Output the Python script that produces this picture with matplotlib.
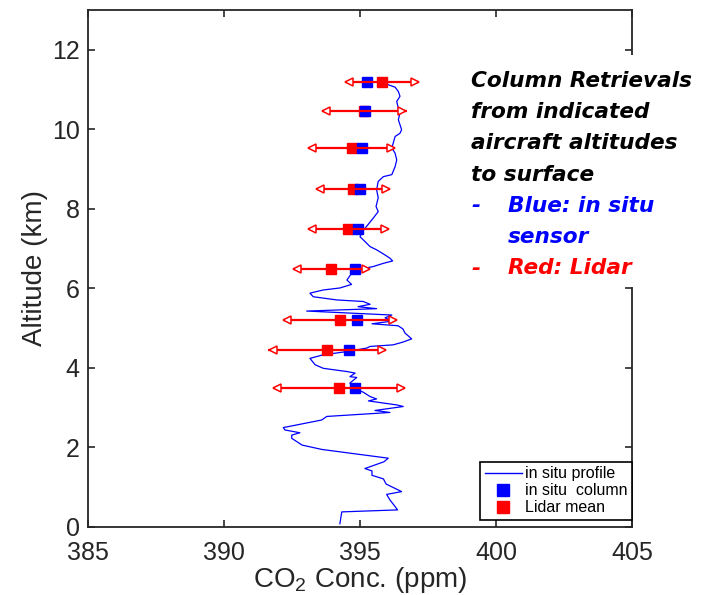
import matplotlib
matplotlib.use('Agg')
import matplotlib.pyplot as plt
from matplotlib.transforms import ScaledTranslation
from matplotlib.patches import Rectangle
from matplotlib.lines import Line2D

# ---------------- data ----------------
profile_conc = [395.81, 396.04, 396.29, 396.41, 396.47, 396.35, 396.41, 396.47, 396.41, 396.53,
                396.47, 396.29, 396.22, 396.17, 396.29, 396.35, 396.29, 396.17, 395.86, 395.67,
                395.61, 395.67, 395.59, 395.67, 395.49, 395.29, 395.11, 395.00, 395.18, 395.37,
                395.61, 395.92, 396.10, 396.20, 395.86, 395.49, 395.06, 394.69, 394.52, 394.69,
                394.26, 393.65, 393.16, 393.28, 394.14, 395.12, 395.37, 394.93, 395.61, 393.04,
                396.17, 395.92, 396.21, 395.44, 396.40, 396.58, 396.65, 396.90, 396.58, 396.22,
                395.37, 395.25, 394.51, 393.65, 393.16, 393.35, 393.65, 394.51, 394.82, 394.63,
                394.88, 394.63, 394.75, 395.12, 395.37, 395.61, 395.31, 396.35, 396.59, 395.55,
                396.10, 393.78, 393.59, 392.18, 392.24, 392.79, 392.49, 392.49, 392.87, 393.60,
                396.04, 395.88, 395.18, 395.44, 395.44, 395.86, 395.96, 396.53, 395.98, 396.10,
                396.25, 396.38, 394.33, 394.26]
profile_alt = [11.23, 11.12, 11.06, 10.95, 10.83, 10.70, 10.53, 10.41, 10.24, 9.99,
               9.90, 9.82, 9.65, 9.53, 9.40, 9.23, 9.06, 8.86, 8.81, 8.69,
               8.48, 8.28, 8.06, 7.93, 7.77, 7.60, 7.45, 7.30, 7.18, 7.05,
               6.97, 6.84, 6.76, 6.69, 6.63, 6.55, 6.49, 6.38, 6.21, 6.10,
               6.01, 5.96, 5.88, 5.79, 5.71, 5.67, 5.60, 5.54, 5.49, 5.43,
               5.33, 5.26, 5.18, 5.11, 5.06, 4.98, 4.88, 4.73, 4.65, 4.58,
               4.54, 4.50, 4.41, 4.33, 4.24, 4.08, 3.99, 3.91, 3.87, 3.78,
               3.76, 3.62, 3.49, 3.39, 3.28, 3.22, 3.17, 3.07, 3.03, 2.93,
               2.88, 2.78, 2.69, 2.50, 2.44, 2.37, 2.31, 2.23, 2.06, 1.95,
               1.73, 1.64, 1.47, 1.41, 1.30, 1.21, 1.08, 0.89, 0.82, 0.68,
               0.55, 0.43, 0.38, 0.08]

column_alt = [11.19, 10.47, 9.54, 8.50, 7.49, 6.48, 5.21, 4.45, 3.50]
insitu_column = [395.26, 395.18, 395.07, 395.00, 394.93, 394.83, 394.90, 394.61, 394.83]
lidar_mean = [395.80, 395.15, 394.70, 394.75, 394.57, 393.95, 394.26, 393.79, 394.23]
lidar_err = [1.36, 1.56, 1.60, 1.36, 1.49, 1.43, 2.10, 2.16, 2.43]

x_ticks = [385, 390, 395, 400, 405]
y_ticks = [0, 2, 4, 6, 8, 10, 12]

legend_labels = ['in situ profile', 'in situ  column', 'Lidar mean']
note_lines = ['Column Retrievals', 'from indicated', 'aircraft altitudes', 'to surface']
blue_lines = ['Blue: in situ', 'sensor']
red_lines = ['Red: Lidar']

# ---------------- style ----------------
plt.rcParams['font.family'] = ['Liberation Sans', 'DejaVu Sans']
plt.rcParams['mathtext.fontset'] = 'custom'
plt.rcParams['mathtext.rm'] = 'Liberation Sans'
plt.rcParams['mathtext.it'] = 'Liberation Sans:italic'

W, H = 702, 595
fig = plt.figure(figsize=(W / 100, H / 100), dpi=100)
ax = fig.add_axes([88 / W, 1 - 527 / H, (632 - 88) / W, (527 - 10) / H])

dark = '#262626'
for s in ax.spines.values():
    s.set_color(dark)
    s.set_linewidth(1.3)
ax.tick_params(direction='in', length=5, width=1.2, colors=dark, labelsize=18,
               top=True, right=True)
ax.tick_params(axis='x', pad=10)
ax.tick_params(axis='y', pad=6)

ax.set_xlim(385, 405)
ax.set_ylim(0, 13)
ax.set_xticks(x_ticks)
ax.set_yticks(y_ticks)

# profile
ax.plot(profile_conc, profile_alt, color='#0000ff', lw=0.9, zorder=2)

# column markers
ax.plot(lidar_mean, column_alt, 's', color='#ff0000', ms=7.5, mec='#ff0000', zorder=3, lw=0)
ax.plot(insitu_column, column_alt, 's', color='#0000ff', ms=7.5, mec='#0000ff', zorder=4, lw=0)

# error bars with open arrowheads
ms_tri = 6.0
for c, a, e in zip(lidar_mean, column_alt, lidar_err):
    ax.plot([c - e, c + e], [a, a], color='#ff0000', lw=1.6, zorder=5, solid_capstyle='butt')
    off_l = ScaledTranslation(ms_tri / 2 / 72, 0, fig.dpi_scale_trans)
    off_r = ScaledTranslation(-ms_tri / 2 / 72, 0, fig.dpi_scale_trans)
    ax.plot([c - e], [a], marker='<', ms=ms_tri, mfc='white', mec='#ff0000', mew=1.1,
            transform=ax.transData + off_l, zorder=6)
    ax.plot([c + e], [a], marker='>', ms=ms_tri, mfc='white', mec='#ff0000', mew=1.1,
            transform=ax.transData + off_r, zorder=6)

ax.set_xlabel(r'CO$_2$ Conc. (ppm)', fontsize=20, color=dark, labelpad=0)
ax.set_ylabel('Altitude (km)', fontsize=20, color=dark, labelpad=3)

# legend
handles = [Line2D([], [], color='#0000ff', lw=1.0),
           Line2D([], [], marker='s', ls='none', color='#0000ff', ms=8),
           Line2D([], [], marker='s', ls='none', color='#ff0000', ms=8)]
leg = ax.legend(handles, legend_labels, loc='lower right',
                bbox_to_anchor=(1.0, 7 / 517), fontsize=11.5, frameon=True, fancybox=False,
                edgecolor='black', framealpha=1, borderpad=0.3, labelspacing=0.12,
                handlelength=2.3, handletextpad=0.2, borderaxespad=0.0)
leg.get_frame().set_linewidth(1.2)

# white box behind note text (hides right spine)
fig.patches.append(Rectangle((462 / W, 1 - 287 / H), (W - 462) / W, (287 - 55) / H,
                             transform=fig.transFigure, facecolor='white',
                             edgecolor='none', zorder=1))

fkw = dict(fontsize=15.6, fontweight='bold', fontstyle='italic',
           family=['DejaVu Sans'], va='baseline', ha='left', zorder=4)
base = 86.7
step = 31.3
for i, t in enumerate(note_lines):
    fig.text(471 / W, 1 - (base + i * step) / H, t, color='black', **fkw)
y = base + 4 * step
fig.text(471 / W, 1 - y / H, '-', color='#0000ff', **fkw)
fig.text(508 / W, 1 - y / H, blue_lines[0], color='#0000ff', **fkw)
y += step
fig.text(508 / W, 1 - y / H, blue_lines[1], color='#0000ff', **fkw)
y += step
fig.text(471 / W, 1 - y / H, '-', color='#ff0000', **fkw)
fig.text(508 / W, 1 - y / H, red_lines[0], color='#ff0000', **fkw)

fig.savefig('out.png', dpi=100)
